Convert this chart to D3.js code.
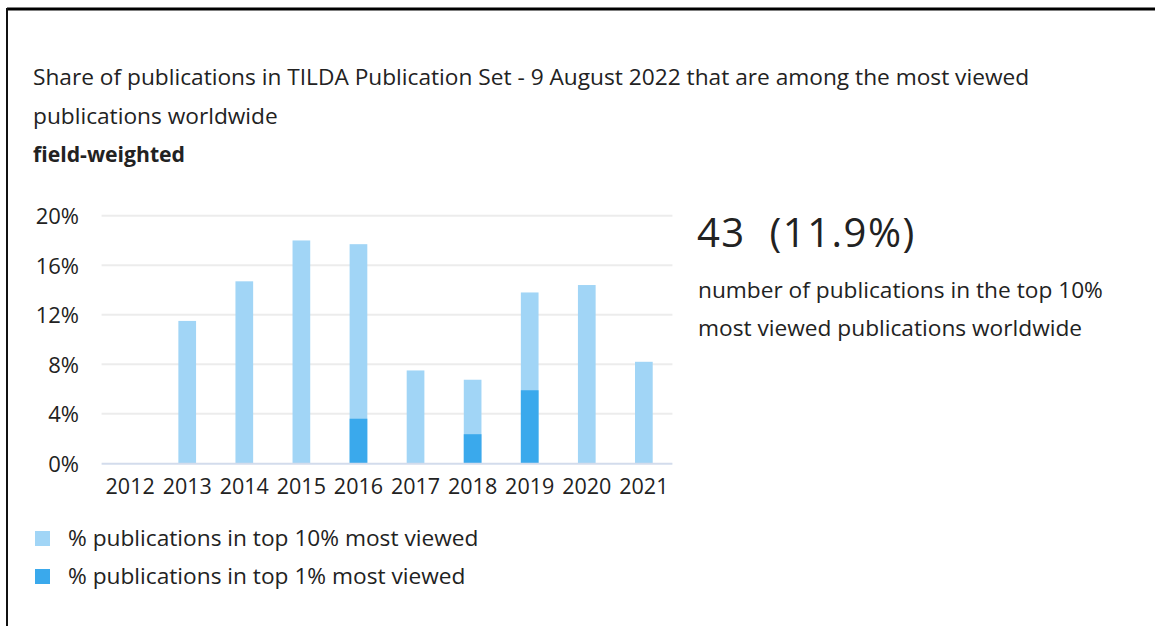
<!DOCTYPE html>
<html>
<head>
<meta charset="utf-8">
<script src="https://cdn.jsdelivr.net/npm/d3@7"></script>
<style>
  html, body { margin: 0; padding: 0; background: #fff; }
  svg { display: block; }
  text { font-family: "Open Sans", Lato, sans-serif; fill: #222; font-variant-ligatures: none; }
</style>
</head>
<body>
<svg id="chart" width="1155" height="626"></svg>
<script>
const years = ["2012","2013","2014","2015","2016","2017","2018","2019","2020","2021"];
const top10 = [0, 11.5, 14.7, 18.0, 17.7, 7.5, 6.75, 13.8, 14.4, 8.2];
const top1  = [0, 0, 0, 0, 3.6, 0, 2.35, 5.9, 0, 0];
const yTicks = [0, 4, 8, 12, 16, 20];
const titleLines = [
  "Share of publications in TILDA Publication Set - 9 August 2022 that are among the most viewed",
  "publications worldwide"
];
const subtitle = "field-weighted";
const bigNumber = "43  (11.9%)";
const descLines = [
  "number of publications in the top 10%",
  "most viewed publications worldwide"
];
const legendLabels = ["% publications in top 10% most viewed", "% publications in top 1% most viewed"];
const colors = ["#a1d5f6", "#3aa9ec"];

const svg = d3.select("#chart");

// frame
svg.append("line").attr("x1", 7).attr("x2", 1155).attr("y1", 9).attr("y2", 9)
  .attr("stroke", "#000").attr("stroke-width", 3);
svg.append("line").attr("x1", 7).attr("x2", 7).attr("y1", 8).attr("y2", 626)
  .attr("stroke", "#111").attr("stroke-width", 2);

// title
svg.append("g").selectAll("text").data(titleLines).join("text")
  .attr("x", 33).attr("y", (d, i) => 85 + i * 38.5)
  .style("font-size", "22.7px")
  .text(d => d);
svg.append("text").attr("x", 33).attr("y", 162)
  .style("font-size", "21.2px").style("font-weight", "bold")
  .text(subtitle);

const x = d3.scaleBand().domain(years).range([101.6, 672.4]).paddingInner(0.69).paddingOuter(0.345);
const y = d3.scaleLinear().domain([0, 20]).range([463.3, 215.7]);

// gridlines
svg.append("g").selectAll("line").data(yTicks.filter(t => t > 0)).join("line")
  .attr("x1", 101.6).attr("x2", 672.4)
  .attr("y1", d => y(d)).attr("y2", d => y(d))
  .attr("stroke", "#ececec").attr("stroke-width", 2);

// y axis labels
const yAxis = d3.axisLeft(y).tickValues(yTicks).tickFormat(d => d + "%").tickSize(0).tickPadding(0);
const gy = svg.append("g").attr("transform", "translate(79,0)").call(yAxis);
gy.select(".domain").remove();
gy.selectAll("text").style("font-size", "22px").attr("font-family", null).attr("dy", "0.36em").attr("fill", "#222");

// bars
svg.append("g").selectAll("rect").data(years).join("rect")
  .attr("x", d => x(d)).attr("width", x.bandwidth())
  .attr("y", (d, i) => y(top10[i])).attr("height", (d, i) => y(0) - y(top10[i]))
  .attr("fill", colors[0]);
svg.append("g").selectAll("rect").data(years).join("rect")
  .attr("x", d => x(d)).attr("width", x.bandwidth())
  .attr("y", (d, i) => y(top1[i])).attr("height", (d, i) => y(0) - y(top1[i]))
  .attr("fill", colors[1]);

// baseline
svg.append("line").attr("x1", 101.6).attr("x2", 672.4).attr("y1", y(0) + 0.5).attr("y2", y(0) + 0.5)
  .attr("stroke", "#d3dcec").attr("stroke-width", 2);

// x axis labels
const xAxis = d3.axisBottom(x).tickSize(0).tickPadding(0);
const gx = svg.append("g").attr("transform", "translate(0,478)").call(xAxis);
gx.select(".domain").remove();
gx.selectAll("text").style("font-size", "21.5px").attr("font-family", null).attr("dy", "0.75em").attr("fill", "#222");

// big number
svg.append("text").attr("x", 697).attr("y", 247).style("font-size", "40px")
  .style("letter-spacing", "1.5px").style("white-space", "pre").text(bigNumber);
svg.append("g").selectAll("text").data(descLines).join("text")
  .attr("x", 698).attr("y", (d, i) => 298 + i * 38)
  .style("font-size", "22.7px").text(d => d);

// legend
const lg = svg.append("g").selectAll("g").data(legendLabels).join("g")
  .attr("transform", (d, i) => `translate(35,${531 + i * 38})`);
lg.append("rect").attr("width", 15).attr("height", 15).attr("fill", (d, i) => colors[i]);
lg.append("text").attr("x", 33).attr("y", 15).style("font-size", "22.7px").text(d => d);
</script>
</body>
</html>
